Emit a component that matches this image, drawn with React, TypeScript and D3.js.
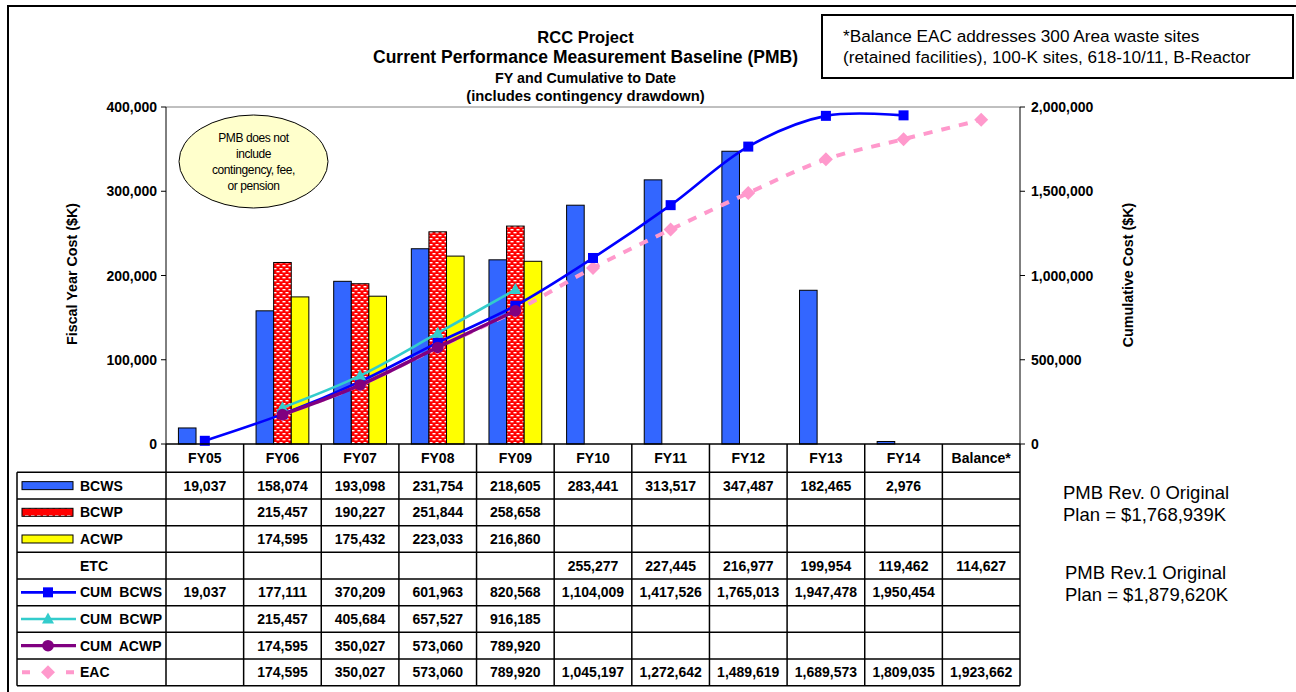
import React from 'react';
import * as d3 from 'd3';

const categories = ['FY05', 'FY06', 'FY07', 'FY08', 'FY09', 'FY10', 'FY11', 'FY12', 'FY13', 'FY14', 'Balance*'];
const bcws = [19037, 158074, 193098, 231754, 218605, 283441, 313517, 347487, 182465, 2976, null];
const bcwp = [null, 215457, 190227, 251844, 258658, null, null, null, null, null, null];
const acwp = [null, 174595, 175432, 223033, 216860, null, null, null, null, null, null];
const etc = [null, null, null, null, null, 255277, 227445, 216977, 199954, 119462, 114627];
const cumBcws = [19037, 177111, 370209, 601963, 820568, 1104009, 1417526, 1765013, 1947478, 1950454, null];
const cumBcwp = [null, 215457, 405684, 657527, 916185, null, null, null, null, null, null];
const cumAcwp = [null, 174595, 350027, 573060, 789920, null, null, null, null, null, null];
const eac = [null, 174595, 350027, 573060, 789920, 1045197, 1272642, 1489619, 1689573, 1809035, 1923662];
const leftTicks = [0, 100000, 200000, 300000, 400000];
const rightTicks = [0, 500000, 1000000, 1500000, 2000000];
const titleLines = ['RCC Project', 'Current Performance Measurement Baseline (PMB)', 'FY and Cumulative to Date', '(includes contingency drawdown)'];
const noteBoxLines = ['*Balance EAC addresses 300 Area waste sites', '(retained facilities), 100-K sites, 618-10/11, B-Reactor'];
const calloutLines = ['PMB does not', 'include', 'contingency, fee,', 'or pension'];
const planNotes = [['PMB Rev. 0 Original', 'Plan = $1,768,939K'], ['PMB Rev.1 Original', 'Plan = $1,879,620K']];
const barSeries = ['BCWS', 'BCWP', 'ACWP'];

const FONT = '"Liberation Sans", Arial, Helvetica, sans-serif';

type Row = { label: string; values: (number | null)[]; key: string };
const rows: Row[] = [
  { label: 'BCWS', values: bcws, key: 'barBlue' },
  { label: 'BCWP', values: bcwp, key: 'barRed' },
  { label: 'ACWP', values: acwp, key: 'barYellow' },
  { label: 'ETC', values: etc, key: 'none' },
  { label: 'CUM BCWS', values: cumBcws, key: 'lineBlue' },
  { label: 'CUM BCWP', values: cumBcwp, key: 'lineCyan' },
  { label: 'CUM ACWP', values: cumAcwp, key: 'linePurple' },
  { label: 'EAC', values: eac, key: 'linePink' },
];

const BLUE_BAR = '#3366FF';
const YELLOW = '#FFFF00';
const RED = '#FF0000';
const LINE_BLUE = '#0000FF';
const CYAN = '#33CCCC';
const PURPLE = '#800080';
const PINK = '#FF99CC';

function Marker({ type, x, y }: { type: string; x: number; y: number }) {
  if (type === 'square') return <rect x={x - 5} y={y - 5} width={10} height={10} fill={LINE_BLUE} />;
  if (type === 'triangle')
    return <path d={`M${x},${y - 6.5}L${x + 6},${y + 4.5}L${x - 6},${y + 4.5}Z`} fill={CYAN} />;
  if (type === 'circle') return <circle cx={x} cy={y} r={5.8} fill={PURPLE} />;
  if (type === 'diamond')
    return <path d={`M${x},${y - 7}L${x + 7},${y}L${x},${y + 7}L${x - 7},${y}Z`} fill={PINK} />;
  return null;
}

export default function App() {
  const W = 1296;
  const H = 692;
  const plotL = 166;
  const plotR = 1020;
  const plotT = 107;
  const plotB = 444;
  const tableL = 17;
  const headerB = 472.3;
  const rowH = 26.675;

  const x = d3.scaleBand<string>().domain(categories).range([plotL, plotR]).padding(0);
  const groupW = x.bandwidth() * 0.68;
  const xSub = d3.scaleBand<string>().domain(barSeries).range([0, groupW]).padding(0);
  const yL = d3.scaleLinear().domain([0, 400000]).range([plotB, plotT]);
  const yR = d3.scaleLinear().domain([0, 2000000]).range([plotB, plotT]);
  const fmt = d3.format(',');
  const cx = (i: number) => (x(categories[i]) as number) + x.bandwidth() / 2;

  const lineGen = d3
    .line<{ i: number; v: number | null }>()
    .defined((d) => d.v != null)
    .x((d) => cx(d.i))
    .y((d) => yR(d.v as number))
    .curve(d3.curveCatmullRom.alpha(0.5));
  const pts = (arr: (number | null)[]) => arr.map((v, i) => ({ i, v }));

  const lineSeries = [
    { data: eac, color: PINK, width: 4, dash: '9,9', marker: 'diamond' },
    { data: cumBcws, color: LINE_BLUE, width: 2.6, dash: undefined, marker: 'square' },
    { data: cumBcwp, color: CYAN, width: 2.6, dash: undefined, marker: 'triangle' },
    { data: cumAcwp, color: PURPLE, width: 3.5, dash: undefined, marker: 'circle' },
  ];

  const barData = [
    { name: 'BCWS', values: bcws, fill: BLUE_BAR },
    { name: 'BCWP', values: bcwp, fill: 'url(#confetti)' },
    { name: 'ACWP', values: acwp, fill: YELLOW },
  ];

  const rowY = (r: number) => headerB + r * rowH;
  const tableBottom = rowY(rows.length);

  const legendKey = (key: string, cy: number) => {
    switch (key) {
      case 'barBlue':
        return <rect x={22} y={cy - 4} width={51} height={8} fill={BLUE_BAR} stroke="#000" strokeWidth={1} />;
      case 'barRed':
        return <rect x={22} y={cy - 4} width={51} height={8} fill="url(#confettiKey)" stroke="#000" strokeWidth={1} />;
      case 'barYellow':
        return <rect x={22} y={cy - 4} width={51} height={8} fill={YELLOW} stroke="#000" strokeWidth={1} />;
      case 'lineBlue':
        return (
          <g>
            <line x1={21} x2={76} y1={cy} y2={cy} stroke={LINE_BLUE} strokeWidth={2.6} />
            <Marker type="square" x={48} y={cy} />
          </g>
        );
      case 'lineCyan':
        return (
          <g>
            <line x1={21} x2={76} y1={cy} y2={cy} stroke={CYAN} strokeWidth={2.6} />
            <Marker type="triangle" x={48} y={cy} />
          </g>
        );
      case 'linePurple':
        return (
          <g>
            <line x1={21} x2={76} y1={cy} y2={cy} stroke={PURPLE} strokeWidth={3.2} />
            <Marker type="circle" x={48} y={cy} />
          </g>
        );
      case 'linePink':
        return (
          <g>
            <line x1={22} x2={76} y1={cy} y2={cy} stroke={PINK} strokeWidth={4} strokeDasharray="8,14" />
            <Marker type="diamond" x={48} y={cy} />
          </g>
        );
      default:
        return null;
    }
  };

  const titleSizes = [16.5, 17.5, 14.3, 14.8];
  const titleY = [43, 63, 83, 101];

  return (
    <svg
      width={W}
      height={H}
      viewBox={`0 0 ${W} ${H}`}
      style={{ position: 'absolute', left: 0, top: 0, background: '#fff' }}
      fontFamily={FONT}
    >
      <defs>
        <pattern id="confetti" patternUnits="userSpaceOnUse" width={6} height={6}>
          <rect width={6} height={6} fill={RED} />
          <rect x={0.5} y={1} width={3} height={1.4} fill="#fff" />
          <rect x={3.5} y={4} width={3} height={1.4} fill="#fff" />
          <rect x={-2.5} y={4} width={3} height={1.4} fill="#fff" />
        </pattern>
        <pattern id="confettiKey" patternUnits="userSpaceOnUse" width={6} height={8} y={0}>
          <rect width={6} height={8} fill={RED} />
          <rect x={1} y={3.3} width={3.5} height={1.4} fill="#fff" />
        </pattern>
      </defs>
      <rect x={0} y={0} width={W} height={H} fill="#fff" />
      {/* outer frame */}
      <rect x={8} y={6} width={1400} height={800} fill="none" stroke="#000" strokeWidth={2} />

      {/* title */}
      {titleLines.map((t, i) => (
        <text
          key={t}
          x={585.5}
          y={titleY[i]}
          textAnchor="middle"
          fontWeight="bold"
          fontSize={titleSizes[i]}
          fill="#000"
        >
          {t}
        </text>
      ))}

      {/* note box */}
      <rect x={822} y={15} width={471} height={63} fill="#fff" stroke="#000" strokeWidth={2} />
      {noteBoxLines.map((t, i) => (
        <text key={t} x={843} y={42 + i * 21} fontSize={17.2} fill="#000">
          {t}
        </text>
      ))}

      {/* plot top border */}
      <line x1={plotL} x2={plotR} y1={plotT} y2={plotT} stroke="#808080" strokeWidth={1} />

      {/* bars */}
      {barData.map((s) =>
        s.values.map((v, i) =>
          v == null ? null : (
            <rect
              key={s.name + i}
              x={(x(categories[i]) as number) + (x.bandwidth() - groupW) / 2 + (xSub(s.name) as number)}
              y={yL(v)}
              width={xSub.bandwidth()}
              height={plotB - yL(v)}
              fill={s.fill}
              stroke="#000"
              strokeWidth={1}
            />
          )
        )
      )}

      {/* lines */}
      {lineSeries.map((s, k) => (
        <g key={k}>
          <path
            d={lineGen(pts(s.data)) || ''}
            fill="none"
            stroke={s.color}
            strokeWidth={s.width}
            strokeDasharray={s.dash}
          />
          {s.data.map((v, i) => (v == null ? null : <Marker key={i} type={s.marker} x={cx(i)} y={yR(v)} />))}
        </g>
      ))}

      {/* axes */}
      <line x1={plotL} x2={plotL} y1={plotT} y2={plotB} stroke="#000" strokeWidth={1} />
      <line x1={plotR} x2={plotR} y1={plotT} y2={plotB} stroke="#000" strokeWidth={1} />
      {leftTicks.map((t) => (
        <g key={'l' + t}>
          <line x1={plotL - 5} x2={plotL} y1={yL(t)} y2={yL(t)} stroke="#000" />
          <text x={157} y={yL(t) + 5} textAnchor="end" fontWeight="bold" fontSize={14}>
            {fmt(t)}
          </text>
        </g>
      ))}
      {rightTicks.map((t) => (
        <g key={'r' + t}>
          <line x1={plotR} x2={plotR + 5} y1={yR(t)} y2={yR(t)} stroke="#000" />
          <text x={1031} y={yR(t) + 5} textAnchor="start" fontWeight="bold" fontSize={14}>
            {fmt(t)}
          </text>
        </g>
      ))}
      <text transform="translate(77,274) rotate(-90)" textAnchor="middle" fontWeight="bold" fontSize={14.3}>
        Fiscal Year Cost ($K)
      </text>
      <text transform="translate(1133,275) rotate(-90)" textAnchor="middle" fontWeight="bold" fontSize={14.3}>
        Cumulative Cost ($K)
      </text>

      {/* callout */}
      <ellipse cx={253.5} cy={161.5} rx={74.5} ry={46.5} fill="#FFFFCC" stroke="#000" strokeWidth={1} />
      {calloutLines.map((t, i) => (
        <text key={t} x={253.5} y={142 + i * 16} textAnchor="middle" fontSize={12} letterSpacing={-0.4}>
          {t}
        </text>
      ))}

      {/* data table */}
      <g stroke="#000" strokeWidth={1.5}>
        <line x1={plotL} x2={plotR} y1={plotB} y2={plotB} />
        {rows.map((_, r) => (
          <line key={'h' + r} x1={tableL} x2={plotR} y1={rowY(r)} y2={rowY(r)} />
        ))}
        <line x1={tableL} x2={plotR} y1={tableBottom} y2={tableBottom} />
        <line x1={tableL} x2={tableL} y1={headerB} y2={tableBottom} />
        {categories.map((c) => (
          <line key={'v' + c} x1={x(c) as number} x2={x(c) as number} y1={plotB} y2={tableBottom} />
        ))}
        <line x1={plotR} x2={plotR} y1={plotB} y2={tableBottom} />
      </g>
      {categories.map((c, i) => (
        <text key={'c' + c} x={cx(i)} y={463} textAnchor="middle" fontWeight="bold" fontSize={14}>
          {c}
        </text>
      ))}
      {rows.map((row, r) => {
        const cy = rowY(r) + rowH / 2;
        return (
          <g key={row.label}>
            {legendKey(row.key, cy)}
            <text x={80} y={cy + 5} fontWeight="bold" fontSize={14} wordSpacing={3.5}>
              {row.label}
            </text>
            {row.values.map((v, i) =>
              v == null ? null : (
                <text key={i} x={cx(i)} y={cy + 5} textAnchor="middle" fontWeight="bold" fontSize={14}>
                  {fmt(v)}
                </text>
              )
            )}
          </g>
        );
      })}

      {/* plan notes */}
      {planNotes.map((pair, k) =>
        pair.map((t, j) => (
          <text key={t} x={1063 + k * 2} y={499 + k * 80 + j * 22} fontSize={18.5}>
            {t}
          </text>
        ))
      )}
    </svg>
  );
}
